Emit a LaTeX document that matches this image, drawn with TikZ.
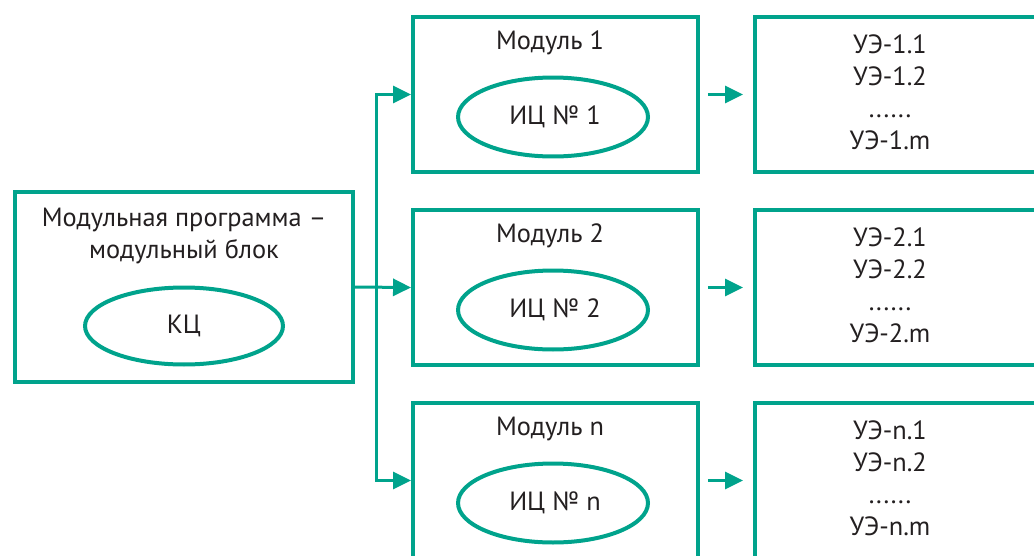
\documentclass[tikz,border=0pt]{standalone}
\usepackage{fontspec}
\setmainfont{PT Sans}
\usepackage{xcolor}
\usetikzlibrary{arrows.meta,shapes.geometric}
\definecolor{modgreen}{RGB}{0,163,140}
\definecolor{inktext}{RGB}{35,31,32}

\begin{document}
\begin{tikzpicture}[x=0.02cm,y=-0.02cm,>={Triangle[length=0.36cm,width=0.34cm]},
  every node/.style={text=inktext,font=\fontsize{15}{18.2}\selectfont},
  framebox/.style={draw=modgreen,line width=0.08cm,inner sep=0pt},
  cell/.style={draw=modgreen,line width=0.08cm,ellipse,inner sep=0pt},
  link/.style={draw=modgreen,line width=0.06cm}]
  \useasboundingbox (0,0) rectangle (1034,555);
  \clip (0,0) rectangle (1034,555);
  \node[framebox,minimum width=6.76cm,minimum height=3.8cm] (prog) at (184,287) {};
  \node[align=center] (progt) at (184,236) {Модульная программа –\\модульный блок};
  \node[cell,minimum width=3.96cm,minimum height=1.54cm] (kc) at (184,326) {КЦ};
  \foreach \k/\lbl/\yo in {1/1/17,2/2/210,3/n/403}{
    \node[framebox,minimum width=5.7cm,minimum height=3.1cm] (mod\k) at (555.5,\yo+77.5) {};
    \node (modt\k) at (550,\yo+26) {Модуль \lbl};
    \node[cell,minimum width=3.8cm,minimum height=1.58cm] (ic\k) at (553,\yo+100) {\hspace*{0.08cm}ИЦ № \lbl};
    \node[framebox,minimum width=6.2cm,minimum height=3.1cm] (ue\k) at (910,\yo+77.5) {};
    \node[align=center] (uet\k) at (890,\yo+75) {УЭ-\lbl.1\\УЭ-\lbl.2\\......\\УЭ-\lbl.m};
    \draw[link,->,shorten <=0.16cm,shorten >=0.2cm] (mod\k.east) -- (ue\k.west);
  }
  \coordinate (fork) at (376,287.5);
  \draw[link,->] (prog.east) -- (mod2.west);
  \draw[link,->] (fork) |- (mod1.west);
  \draw[link,->] (fork) |- (mod3.west);
\end{tikzpicture}
\end{document}
